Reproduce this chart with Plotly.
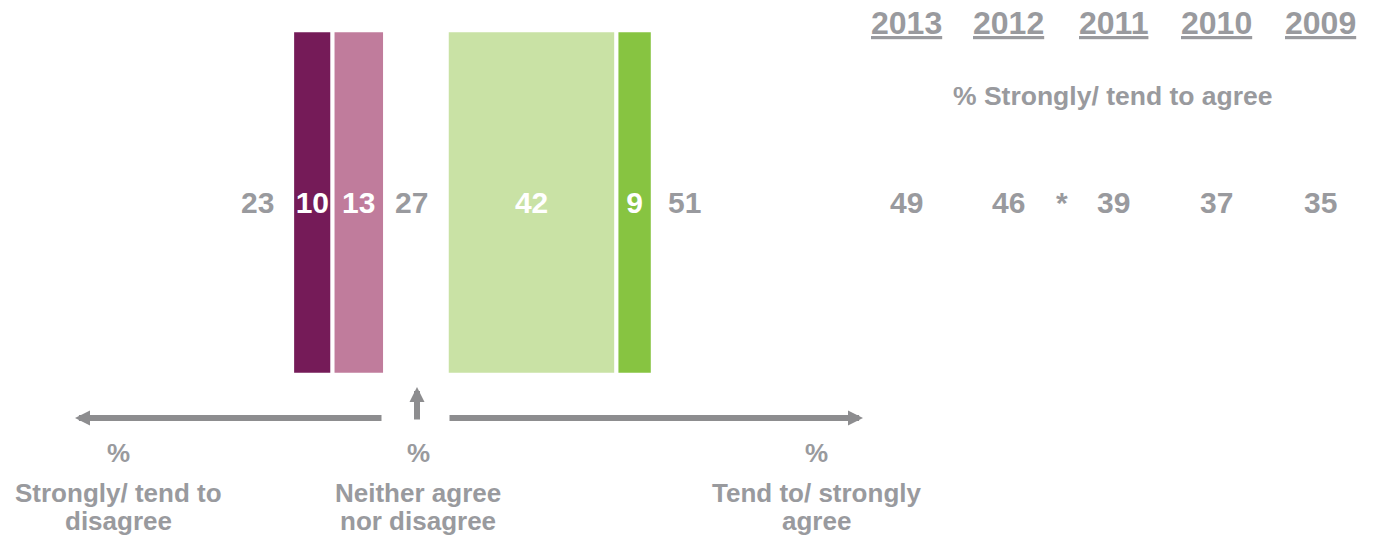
import plotly.graph_objects as go

# ---------------- data ----------------
segment_labels = ["Strongly disagree", "Tend to disagree", "Tend to agree", "Strongly agree"]
disagree_values = [10, 13]          # strongly disagree, tend to disagree
neither_value = 27
agree_values = [42, 9]              # tend to agree, strongly agree
disagree_total = 23
agree_total = 51

years = ["2013", "2012", "2011", "2010", "2009"]
year_agree = [49, 46, 39, 37, 35]
sig_marker = "*"                    # significant change between 2012 and 2011

side_labels = [("%", "Strongly/ tend to", "disagree"),
               ("%", "Neither agree", "nor disagree"),
               ("%", "Tend to/ strongly", "agree")]

# ---------------- style ----------------
W, H = 1374, 536
GREY = "#999A9E"
ARROW = "#8D8D8F"
FONT = "Liberation Sans, Arial, sans-serif"
colors = ["#751B58", "#C07C9C", "#C9E2A5", "#87C441"]


def px_x(px):
    return px / W


def px_y(py):
    return 1 - py / H


PX_PER_UNIT = 4.04
CENTER_PX = 415.9
GAP = 30.85 / PX_PER_UNIT            # half gap around the neutral zone (units)
x_min = -CENTER_PX / PX_PER_UNIT
x_max = (W - CENTER_PX) / PX_PER_UNIT

# y axis: range [0, 1] == paper
BAR_Y = px_y(202.5)
BAR_W = 344.4 / H

fig = go.Figure()

dis_bases = []
edge = -GAP - sum(disagree_values)
for v in disagree_values:
    dis_bases.append(edge)
    edge += v
agr_bases = []
edge = GAP
for v in agree_values:
    agr_bases.append(edge)
    edge += v

vals = disagree_values + agree_values
bases = dis_bases + agr_bases
for name, v, b, c in zip(segment_labels, vals, bases, colors):
    fig.add_trace(go.Bar(
        x=[v], y=[BAR_Y], base=[b], orientation="h", width=[BAR_W],
        name=name, marker=dict(color=c, line=dict(color="white", width=4)),
        text=[str(v)], textposition="inside", insidetextanchor="middle",
        textangle=0, constraintext="none",
        textfont=dict(family=FONT, size=30, color="white", weight="bold"),
        hoverinfo="skip", showlegend=False,
    ))

ann = []
num_font = dict(family=FONT, size=30, color=GREY, weight="bold")
ann.append(dict(x=-GAP - disagree_total, y=BAR_Y, xref="x", yref="y", text=str(disagree_total),
                showarrow=False, xanchor="center", yanchor="middle", xshift=-35, font=num_font))
ann.append(dict(x=0, y=BAR_Y, xref="x", yref="y", text=str(neither_value),
                showarrow=False, xanchor="center", yanchor="middle", xshift=-4, font=num_font))
ann.append(dict(x=GAP + agree_total, y=BAR_Y, xref="x", yref="y", text=str(agree_total),
                showarrow=False, xanchor="center", yanchor="middle", xshift=32, font=num_font))

year_px = [906, 1009, 1113, 1216, 1320]
for yr, val, px in zip(years, year_agree, year_px):
    ann.append(dict(x=px_x(px), y=px_y(23), xref="paper", yref="paper", text=yr,
                    showarrow=False, xanchor="center", yanchor="middle",
                    font=dict(family=FONT, size=32, color=GREY, weight="bold", lineposition="under")))
    ann.append(dict(x=px_x(px), y=BAR_Y, xref="paper", yref="y", text=str(val),
                    showarrow=False, xanchor="center", yanchor="middle", font=num_font))
ann.append(dict(x=px_x(1062), y=BAR_Y, xref="paper", yref="y", text=sig_marker,
                showarrow=False, xanchor="center", yanchor="middle", font=num_font))
ann.append(dict(x=px_x(1113), y=px_y(96), xref="paper", yref="paper", text="% Strongly/ tend to agree",
                showarrow=False, xanchor="center", yanchor="middle",
                font=dict(family=FONT, size=26.5, color=GREY, weight="bold")))

lab_font = dict(family=FONT, size=26, color=GREY, weight="bold")
for (pct, l1, l2), px in zip(side_labels, [118, 418, 816]):
    for txt, ypx in [(pct, 453), (l1, 493), (l2, 521)]:
        ann.append(dict(x=px_x(px), y=px_y(ypx), xref="paper", yref="paper", text=txt,
                        showarrow=False, xanchor="center", yanchor="middle", font=lab_font))


def arrow(x0, y0, x1, y1, width):
    return dict(x=px_x(x1), y=px_y(y1), ax=px_x(x0), ay=px_y(y0),
                xref="x domain", yref="y domain", axref="x domain", ayref="y domain",
                text="", showarrow=True, arrowhead=2, arrowsize=0.5,
                arrowwidth=width, arrowcolor=ARROW)


ann.append(arrow(383, 418, 75, 418, 6))
ann.append(arrow(448, 418, 863, 418, 6))
ann.append(arrow(417, 421, 417, 387, 6))

fig.update_layout(
    width=W, height=H, margin=dict(l=0, r=0, t=0, b=0),
    plot_bgcolor="white", paper_bgcolor="white",
    xaxis=dict(range=[x_min, x_max], visible=False, fixedrange=True),
    yaxis=dict(range=[0, 1], visible=False, fixedrange=True),
    barmode="overlay", annotations=ann, showlegend=False,
)

fig.write_html("out.html",
               config={"displayModeBar": False, "staticPlot": True},
               post_script="document.body.style.margin='0';document.body.style.overflow='hidden';")
